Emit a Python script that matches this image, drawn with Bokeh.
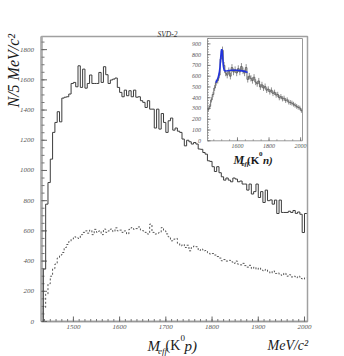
import numpy as np
from bokeh.plotting import figure
from bokeh.models import Range1d, Label
from bokeh.core.properties import value
from bokeh.embed import file_html
from bokeh.resources import INLINE

# ---------------- data ----------------
BIN = 5
main_start = 1435  # MeV, first bin edge
solid = [347, 777, 920, 1075, 1252, 1318, 1389, 1322, 1479, 1485,
         1488, 1506, 1576, 1583, 1554, 1693, 1550, 1671, 1545, 1576,
         1632, 1576, 1576, 1576, 1649, 1583, 1687, 1634, 1576, 1599,
         1605, 1612, 1550, 1517, 1488, 1532, 1495, 1528, 1488, 1532,
         1485, 1488, 1462, 1451, 1417, 1462, 1406, 1406, 1281, 1406,
         1274, 1377, 1318, 1252, 1329, 1347, 1267, 1281, 1260, 1252,
         1208, 1163, 1200, 1190, 1175, 1185, 1175, 1142, 1140, 1119,
         1108, 1064, 1060, 1025, 993, 1025, 985, 958, 936, 950,
         936, 925, 950, 943, 925, 930, 910, 910, 870, 910,
         844, 860, 910, 821, 860, 788, 870, 800, 805, 777,
         804, 715, 804, 722, 722, 722, 730, 722, 735, 716,
         725, 710, 589, 715]
dotted = [93, 181, 250, 300, 350, 380, 420, 440, 457, 490,
          510, 530, 546, 561, 556, 550, 575, 590, 600, 585,
          605, 575, 610, 590, 600, 575, 612, 590, 600, 612,
          595, 620, 600, 605, 590, 600, 579, 610, 622, 610,
          615, 626, 605, 600, 590, 579, 645, 590, 579, 585,
          590, 622, 600, 580, 561, 534, 545, 550, 517, 501,
          510, 490, 505, 468, 490, 500, 495, 470, 480, 468,
          470, 455, 446, 450, 440, 430, 420, 402, 410, 400,
          405, 395, 385, 400, 380, 375, 385, 370, 360, 372,
          350, 360, 345, 355, 340, 335, 345, 330, 320, 335,
          318, 322, 310, 305, 320, 300, 310, 295, 300, 290,
          300, 285, 280, 290]

x_ticks = [1500, 1600, 1700, 1800, 1900, 2000]
x_minor = [1437.5 + 12.5 * i for i in range(46)]
y_ticks = [0, 200, 400, 600, 800, 1000, 1200, 1400, 1600, 1800]
y_minor = list(range(0, 1887, 50))

# inset (K0 n)
INSET_BIN = 10
inset_start = 1410
inset_vals = [290, 320, 380, 430, 490, 540, 560, 610, 760, 840,
              700, 630, 610, 650, 600, 680, 640, 660, 630, 670,
              640, 690, 650, 630, 680, 570, 600, 580, 560, 590,
              545, 530, 555, 500, 520, 490, 505, 470, 480, 455,
              470, 440, 450, 425, 430, 400, 410, 390, 395, 375,
              380, 360, 355, 350, 340, 330, 320, 310, 305, 280]
inset_errs = [20, 22, 24, 25, 27, 28, 28, 30, 33, 35,
              32, 30, 30, 31, 30, 32, 31, 31, 30, 31,
              31, 32, 31, 30, 32, 29, 30, 29, 29, 29,
              28, 28, 29, 27, 28, 27, 27, 26, 26, 26,
              26, 25, 25, 25, 25, 24, 24, 24, 24, 23,
              23, 23, 23, 23, 22, 22, 22, 21, 21, 20]
fit_x = [1462, 1470, 1478, 1484, 1489, 1493, 1497, 1500, 1503, 1507,
         1511, 1516, 1522, 1535, 1560, 1590, 1620, 1645, 1664]
fit_y = [540, 560, 590, 625, 680, 760, 830, 850, 830, 760,
         690, 655, 648, 650, 655, 655, 652, 645, 635]
inset_x_ticks = [1600, 1800, 2000]
inset_x_minor = list(range(1450, 2012, 50))
inset_y_ticks = [0, 100, 200, 300, 400, 500, 600, 700, 800, 900]
inset_y_minor = list(range(0, 951, 25))

# ---------------- geometry (canvas px == page px) ----------------
W, H = 344, 356
BL, BR, BT, BB = 41.0, 307.0, 36.0, 321.0      # main plot box
X0, X1 = 1431.0, 2006.5
Y0, Y1 = 0.0, 1887.0
kx = (X1 - X0) / (BR - BL)
ky = (Y1 - Y0) / (BB - BT)

p = figure(width=W, height=H,
           x_range=Range1d(X0 - BL * kx, X1 + (W - BR) * kx),
           y_range=Range1d(Y0 - (H - BB) * ky, Y1 + BT * ky),
           x_axis_location=None, y_axis_location=None,
           output_backend="svg", toolbar_location=None, title=None,
           min_border=0, min_border_left=0, min_border_right=0,
           min_border_top=0, min_border_bottom=0,
           background_fill_color="white", border_fill_color="white")
p.grid.visible = False
p.outline_line_color = None

TF = value("Liberation Serif")

# main box and axes
p.quad(left=X0, right=X1, bottom=Y0, top=Y1, fill_color=None,
       line_color="#a0a0a0", line_width=1.5)
p.segment(X0, Y0, X0, Y1, line_color="#aaaaaa", line_width=2.5)
p.segment(X0, Y0, X1, Y0, line_color="#999999", line_width=1.5)
p.segment([X0] * len(y_minor), y_minor, [X0 + 3 * kx] * len(y_minor), y_minor,
          line_color="#777777", line_width=1)
p.segment([X0] * len(y_ticks), y_ticks, [X0 + 5.5 * kx] * len(y_ticks), y_ticks,
          line_color="#666666", line_width=1)
p.segment(x_minor, [Y0] * len(x_minor), x_minor, [Y0 + 2.5 * ky] * len(x_minor),
          line_color="#777777", line_width=1)
p.segment(x_ticks, [Y0] * len(x_ticks), x_ticks, [Y0 + 5 * ky] * len(x_ticks),
          line_color="#666666", line_width=1)
p.text(x=[X0 - 7.5 * kx] * len(y_ticks), y=y_ticks, text=[str(t) for t in y_ticks],
       text_align="right", text_baseline="middle", text_font=TF,
       text_font_style="italic", text_font_size="7px", text_color="#555555")
p.text(x=x_ticks, y=[Y0 - 3 * ky] * len(x_ticks), text=[str(t) for t in x_ticks],
       text_align="center", text_baseline="top", text_font=TF,
       text_font_style="italic", text_font_size="7px", text_color="#555555")

# main histograms (step outlines)
edges = main_start + BIN * np.arange(len(solid) + 1)
xs = np.concatenate([[edges[0]], edges])
p.step(xs, [0] + solid + [solid[-1]], mode="after", line_color="#3c3c3c", line_width=1)
edges_d = main_start + BIN * np.arange(len(dotted) + 1)
xd = np.concatenate([[edges_d[0]], edges_d])
p.step(xd, [0] + dotted + [dotted[-1]], mode="after", line_color="#555555",
       line_width=1, line_dash="2 2")

# ---------------- inset via extra ranges ----------------
IB_L, IB_R, IB_T, IB_B = 207.0, 302.0, 38.0, 140.3
IX0, IX1 = 1410.0, 2012.0
IY0, IY1 = 0.0, 950.0
sxi = (IX1 - IX0) / (IB_R - IB_L)
syi = (IY1 - IY0) / (IB_B - IB_T)
p.extra_x_ranges = {"ix": Range1d(IX0 - IB_L * sxi, IX1 + (W - IB_R) * sxi)}
p.extra_y_ranges = {"iy": Range1d(IY0 - (H - IB_B) * syi, IY1 + IB_T * syi)}
R = dict(x_range_name="ix", y_range_name="iy")

p.quad(left=IX0, right=IX1, bottom=IY0, top=IY1, fill_color="white",
       line_color="#9a9a9a", line_width=1, **R)
ie = inset_start + INSET_BIN * np.arange(len(inset_vals) + 1)
ic = ie[:-1] + INSET_BIN / 2
p.segment(ic, np.array(inset_vals) - np.array(inset_errs), ic,
          np.array(inset_vals) + np.array(inset_errs), line_color="#909090", line_width=1, **R)
p.step(ie, inset_vals + [inset_vals[-1]], mode="after", line_color="#606060", line_width=0.9, **R)
p.line(fit_x, fit_y, line_color="#2233dd", line_width=1.6, **R)

p.segment([IX0] * len(inset_y_minor), inset_y_minor, [IX0 + 1.5 * sxi] * len(inset_y_minor),
          inset_y_minor, line_color="#777777", line_width=0.7, **R)
p.segment([IX0] * len(inset_y_ticks), inset_y_ticks, [IX0 + 3 * sxi] * len(inset_y_ticks),
          inset_y_ticks, line_color="#666666", line_width=0.8, **R)
p.segment(inset_x_minor, [IY0] * len(inset_x_minor), inset_x_minor,
          [IY0 + 1.5 * syi] * len(inset_x_minor), line_color="#777777", line_width=0.7, **R)
p.segment(inset_x_ticks, [IY0] * 3, inset_x_ticks, [IY0 + 3.5 * syi] * 3,
          line_color="#666666", line_width=0.8, **R)
p.text(x=[IX0 - 6.5 * sxi] * len(inset_y_ticks), y=inset_y_ticks,
       text=[str(t) for t in inset_y_ticks], text_align="right", text_baseline="middle",
       text_font=TF, text_font_style="italic", text_font_size="6px",
       text_color="#555555", **R)
p.text(x=inset_x_ticks, y=[IY0 - 4.7 * syi] * 3, text=[str(t) for t in inset_x_ticks],
       text_align="center", text_baseline="middle", text_font=TF,
       text_font_style="italic", text_font_size="6px", text_color="#555555", **R)

# ---------------- text labels (canvas px; frame == canvas) ----------------
def lab(txt, cx, cy, size, style="italic", color="#1a1a1a", **kw):
    p.add_layout(Label(x=cx, y=H - cy, x_units="screen", y_units="screen",
                       text=txt, text_font="Liberation Serif",
                       text_font_style=style, text_font_size=size, text_color=color,
                       text_baseline=kw.pop("baseline", "alphabetic"), **kw))

lab("SVD-2", 157, 34, "7.5px", color="#333333")
lab("N/5 MeV/c²", 13, 107, "16px", angle=np.pi / 2, text_align="left")
lab("M", 147, 345, "15px")
lab("eff", 157.5, 350, "9px")
lab("(K", 165, 345, "14px", style="normal")
lab("0", 180, 337.5, "9px", style="normal")
lab("p)", 184, 345, "15px")
lab("MeV/c²", 267, 345, "14px")
# inset x label
lab("M", 233, 159.5, "12px", style="bold italic")
lab("eff", 241, 163, "7px", style="bold italic")
lab("(K", 246.5, 159.5, "11px", style="bold")
lab("0", 258.5, 153.5, "7px", style="bold")
lab("n)", 262.5, 159.5, "11px", style="bold italic")

open("out.html", "w").write(file_html(p, INLINE))
